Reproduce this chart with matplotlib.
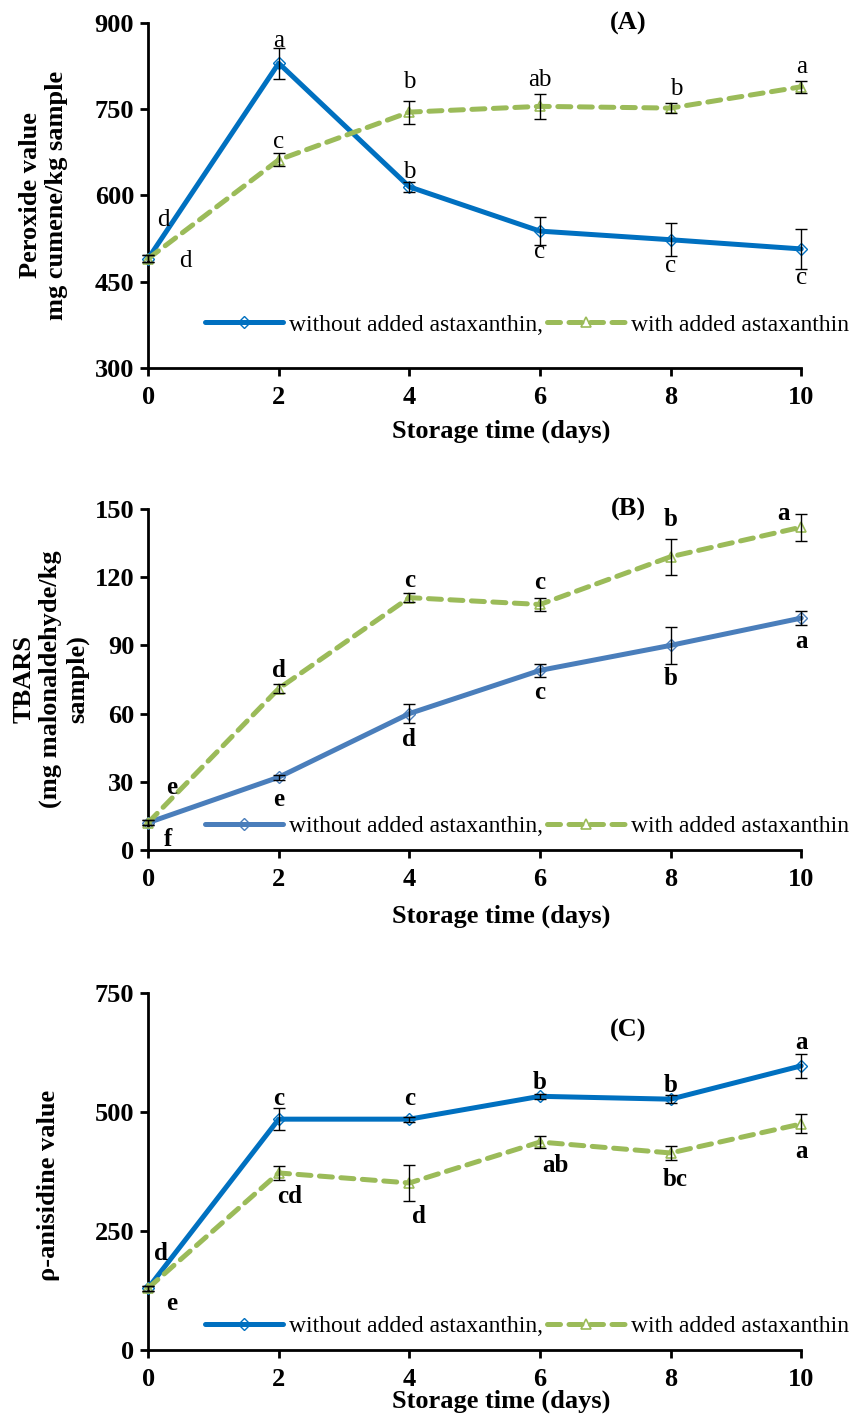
import matplotlib.pyplot as plt

# storage days
days = [0, 2, 4, 6, 8, 10]

# (A) peroxide value
pv_without = [490, 830, 615, 538, 523, 507]
pv_without_err = [6, 27, 9, 24, 29, 35]
pv_with = [490, 662, 745, 755, 752, 789]
pv_with_err = [6, 11, 20, 22, 8, 10]
pv_let_without = ['d', 'a', 'b', 'c', 'c', 'c']
pv_let_with = ['d', 'c', 'b', 'ab', 'b', 'a']

# (B) TBARS
tb_without = [12, 32, 60, 79, 90, 102]
tb_without_err = [1, 1, 4, 3, 8, 3]
tb_with = [12, 71, 111, 108, 129, 142]
tb_with_err = [1, 2, 2, 3, 8, 6]
tb_let_without = ['f', 'e', 'd', 'c', 'b', 'a']
tb_let_with = ['e', 'd', 'c', 'c', 'b', 'a']

# (C) p-anisidine value
av_without = [130, 485, 485, 533, 527, 597]
av_without_err = [5, 23, 5, 5, 8, 25]
av_with = [130, 372, 351, 437, 414, 475]
av_with_err = [5, 15, 37, 12, 15, 20]
av_let_without = ['d', 'c', 'c', 'b', 'b', 'a']
av_let_with = ['e', 'cd', 'd', 'ab', 'bc', 'a']

plt.rcParams['font.family'] = ['Liberation Serif', 'DejaVu Serif']

GREEN = '#9BBB59'
fig = plt.figure(figsize=(8.56, 14.19), dpi=100)


def panel(rect, blue, y1, e1, y2, e2, l1, l2, off1, off2, ylim, yticks,
          ylabel, lab_xy, xlab_y, tag, tag_y, leg_y, bold_letters):
    ax = fig.add_axes(rect)
    ax.plot(days, y1, color=blue, lw=3.6, marker='D', ms=6, mfc='none',
            mec=blue, mew=1, zorder=3, solid_capstyle='round', clip_on=False,
            label='without added astaxanthin,')
    ax.plot(days, y2, color=GREEN, lw=3.6, ls=(0, (2.6, 1.7)), marker='^', ms=7,
            mfc='none', mec=GREEN, mew=1.2, zorder=3, clip_on=False,
            dash_capstyle='round', label='with added astaxanthin')
    for y, e in ((y1, e1), (y2, e2)):
        eb = ax.errorbar(days, y, yerr=e, fmt='none', ecolor='black',
                         elinewidth=1, capsize=4, capthick=1, zorder=4)
        for art in eb.lines[1] + eb.lines[2]:
            art.set_clip_on(False)
    fw = 'bold' if bold_letters else 'normal'
    for ys, lets, offs in ((y1, l1, off1), (y2, l2, off2)):
        for x, y, t, o in zip(days, ys, lets, offs):
            ax.annotate(t, (x, y), xytext=o, textcoords='offset points',
                        ha='center', va='center', fontsize=18, fontweight=fw)
    ax.set_xlim(0, 10)
    ax.set_ylim(*ylim)
    ax.set_xticks(days)
    ax.set_yticks(yticks)
    for s in ('top', 'right'):
        ax.spines[s].set_visible(False)
    for s in ('left', 'bottom'):
        ax.spines[s].set_linewidth(2)
    ax.tick_params(width=2, length=6, labelsize=19, pad=4)
    ax.tick_params(axis='x', pad=7)
    for t in ax.get_xticklabels() + ax.get_yticklabels():
        t.set_fontweight('bold')
    ax.set_xlabel('Storage time (days)', fontsize=19, fontweight='bold')
    ax.xaxis.set_label_coords(0.54, xlab_y)
    ax.set_ylabel(ylabel, fontsize=19, fontweight='bold', linespacing=1.2)
    ax.yaxis.set_label_coords(*lab_xy)
    ax.text(0.735, tag_y, tag, transform=ax.transAxes, ha='center',
            va='center', fontsize=19, fontweight='bold')
    ax.legend(loc='center left', bbox_to_anchor=(0.087, leg_y), ncol=2,
              frameon=False, fontsize=17, handlelength=3.3,
              handletextpad=0.25, columnspacing=0.2, borderpad=0,
              borderaxespad=0)
    return ax


panel([0.173, 0.7407, 0.763, 0.2431], '#0070C0',
      pv_without, pv_without_err, pv_with, pv_with_err,
      pv_let_without, pv_let_with,
      [(11, 28), (0, 16), (0, 11), (0, -15), (0, -19), (0, -21)],
      [(27, -2), (0, 13), (0, 22), (0, 19), (4, 14), (0, 14)],
      (300, 900), [300, 450, 600, 750, 900],
      'Peroxide value\nmg cumene/kg sample', (-0.122, 0.5), -0.15,
      '(A)', 1.0, 0.125, False)

panel([0.173, 0.401, 0.763, 0.2403], '#4A7EBB',
      tb_without, tb_without_err, tb_with, tb_with_err,
      tb_let_without, tb_let_with,
      [(14, -12), (0, -16), (0, -19), (0, -16), (0, -24), (0, -17)],
      [(17, 25), (0, 13), (0, 12), (0, 16), (0, 27), (-13, 10)],
      (0, 150), [0, 30, 60, 90, 120, 150],
      'TBARS\n(mg malonaldehyde/kg\nsample)', (-0.09, 0.5), -0.16,
      '(B)', 1.0, 0.07, True)

panel([0.173, 0.0486, 0.763, 0.2516], '#0070C0',
      av_without, av_without_err, av_with, av_with_err,
      av_let_without, av_let_with,
      [(9, 25), (0, 15), (0, 15), (0, 10), (0, 10), (0, 17)],
      [(17, -11), (8, -17), (7, -24), (11, -17), (3, -19), (0, -20)],
      (0, 750), [0, 250, 500, 750],
      'ρ-anisidine value', (-0.135, 0.46), -0.11,
      '(C)', 0.896, 0.067, True)

fig.savefig('out.png', dpi=100)
